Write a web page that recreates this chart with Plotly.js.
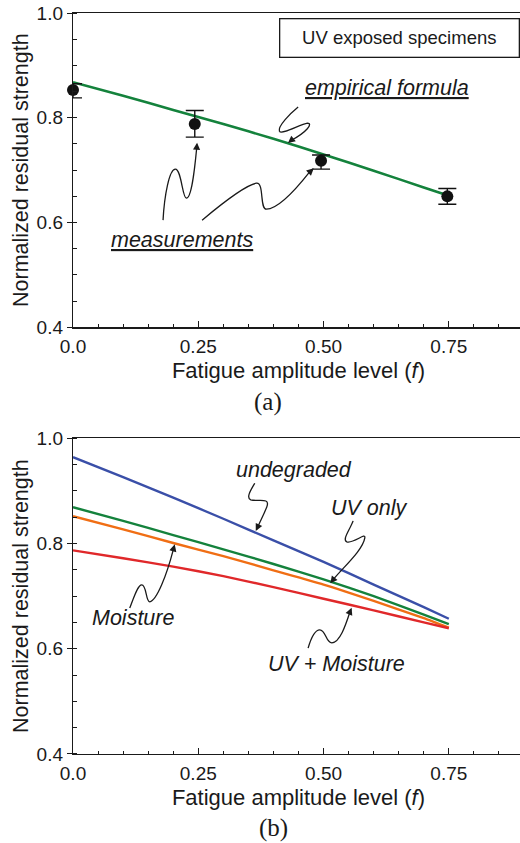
<!DOCTYPE html>
<html>
<head>
<meta charset="utf-8">
<script src="https://cdn.plot.ly/plotly-3.0.1.min.js"></script>
<style>
  html, body { margin: 0; padding: 0; background: #fff; overflow: hidden; }
  #chart { width: 524px; height: 843px; }
</style>
</head>
<body>
<div id="chart"></div>
<script>
// ---------------- data ----------------
// (a) UV exposed specimens
const FIT_F = [0, 0.1, 0.2, 0.3, 0.4, 0.5, 0.6, 0.7, 0.747];
const FIT_UV = [0.868, 0.842, 0.815, 0.788, 0.760, 0.730, 0.699, 0.667, 0.652];
const MEAS_F = [0, 0.243, 0.495, 0.747];
const MEAS_MEAN = [0.853, 0.788, 0.718, 0.650];
const MEAS_ERR_UP = [0.012, 0.026, 0.011, 0.015];
const MEAS_ERR_DOWN = [0.015, 0.025, 0.016, 0.015];

// (b) model curves
const CURVE_F = [0, 0.1, 0.2, 0.3, 0.4, 0.5, 0.6, 0.7, 0.75];
const UNDEGRADED = [0.964, 0.926, 0.887, 0.847, 0.806, 0.765, 0.722, 0.679, 0.657];
const UV_ONLY = [0.869, 0.843, 0.816, 0.789, 0.761, 0.732, 0.700, 0.665, 0.647];
const MOISTURE = [0.852, 0.827, 0.801, 0.776, 0.749, 0.722, 0.691, 0.658, 0.640];
const UV_MOISTURE = [0.787, 0.772, 0.756, 0.738, 0.717, 0.695, 0.673, 0.650, 0.639];

// tick labels
const X_TICKS = [0, 0.25, 0.5, 0.75];
const X_TICKTEXT = ['0.0', '0.25', '0.50', '0.75'];
const Y_TICKS = [0.4, 0.6, 0.8, 1.0];
const Y_TICKTEXT = ['0.4', '0.6', '0.8', '1.0'];

// ---------------- styling ----------------
const FONT = 'Liberation Sans, Arial, Helvetica, sans-serif';
const SERIF = 'Liberation Serif, Times New Roman, serif';
const INK = '#1a1a1a';
const C_GREEN = '#14823c';
const C_BLUE = '#3a4fa8';
const C_ORANGE = '#f06e14';
const C_RED = '#e0282a';

const H = 843, T = 12.7, B = 88.7, L = 73, W = 524;
const plotH = H - T - B;

// pixel -> data helpers for decorations (annotations / squiggle arrows)
const REF = {
  a: {x0: 72.7, xs: 500.8, y1: 12.7, ys: 524.3},
  b: {x0: 73.3, xs: 500.9, y1: 438.3, ys: 526.7}
};
function toData(p, px, py) {
  const r = REF[p];
  return [(px - r.x0) / r.xs, 1 - (py - r.y1) / r.ys];
}
function toPaper(px, py) {
  return [(px - L) / (W - L), 1 - (py - T) / plotH];
}
function pathData(p, s) {
  return s.replace(/(-?[\d.]+),(-?[\d.]+)/g, (m, a, b) => {
    const d = toData(p, +a, +b);
    return d[0].toFixed(5) + ',' + d[1].toFixed(5);
  });
}

const ARROWS = [
  {p: 'a', path: 'M297.7,106.7 C290,113 277,126 279,131 C281,135 300,124 307,123 C313,123 306,132 291,140', tail: [291, 140], tip: [287.5, 142.8]},
  {p: 'a', path: 'M162.7,220 C164,195 169,169 175,169 C181,169 182,198 186,198 C191,198 194,172 196.3,148', tail: [196.3, 148], tip: [196.7, 142.5]},
  {p: 'a', path: 'M201.7,220 C222,203 245,185 256,183 C264,182 259,209 266,209 C279,209 298,186 309,172', tail: [309, 172], tip: [313.3, 168]},
  {p: 'b', path: 'M255,483.3 C251,490 246,498 251,500 C258,502 271,497 267,507 C264,515 260,522 258.5,526', tail: [258.5, 526], tip: [256, 531]},
  {p: 'b', path: 'M353.3,521 C350,530 342,540 347,542 C354,544 366,532 365,538 C363,550 345,566 334,579', tail: [334, 579], tip: [330.5, 583.5]},
  {p: 'b', path: 'M130,608.3 C134,598 138,585 142,585 C147,585 146,602 150,602 C157,601 167,575 173.5,550', tail: [173.5, 550], tip: [175, 544.5]},
  {p: 'b', path: 'M308.3,648.3 C311,639 315,630 320,630 C326,630 326,643 332,643 C340,643 346,625 350,612.5', tail: [350, 612.5], tip: [351.8, 608]}
];

const LABELS = [
  {p: 'a', text: '<i><u>empirical formula</u></i>', at: [386.5, 88]},
  {p: 'a', text: '<i><u>measurements</u></i>', at: [181.5, 240]},
  {p: 'b', text: '<i>undegraded</i>', at: [294.5, 470]},
  {p: 'b', text: '<i>UV only</i>', at: [369.5, 508.5]},
  {p: 'b', text: '<i>Moisture</i>', at: [133, 618.5]},
  {p: 'b', text: '<i>UV + Moisture</i>', at: [336.5, 664]}
];

// ---------------- traces ----------------
const traces = [
  {x: FIT_F, y: FIT_UV, xaxis: 'x', yaxis: 'y', type: 'scatter', mode: 'lines',
   line: {color: C_GREEN, width: 2.6, shape: 'spline', smoothing: 0.6}, name: 'empirical formula'},
  {x: MEAS_F, y: MEAS_MEAN, xaxis: 'x', yaxis: 'y', type: 'scatter', mode: 'markers',
   cliponaxis: false,
   marker: {color: '#111', size: 12}, name: 'measurements',
   error_y: {type: 'data', symmetric: false, array: MEAS_ERR_UP, arrayminus: MEAS_ERR_DOWN,
             color: '#111', thickness: 1.4, width: 9}},
  {x: CURVE_F, y: UNDEGRADED, xaxis: 'x2', yaxis: 'y2', type: 'scatter', mode: 'lines',
   line: {color: C_BLUE, width: 2.4, shape: 'spline', smoothing: 0.6}, name: 'undegraded'},
  {x: CURVE_F, y: UV_ONLY, xaxis: 'x2', yaxis: 'y2', type: 'scatter', mode: 'lines',
   line: {color: C_GREEN, width: 2.4, shape: 'spline', smoothing: 0.6}, name: 'UV only'},
  {x: CURVE_F, y: MOISTURE, xaxis: 'x2', yaxis: 'y2', type: 'scatter', mode: 'lines',
   line: {color: C_ORANGE, width: 2.4, shape: 'spline', smoothing: 0.6}, name: 'Moisture'},
  {x: CURVE_F, y: UV_MOISTURE, xaxis: 'x2', yaxis: 'y2', type: 'scatter', mode: 'lines',
   line: {color: C_RED, width: 2.4, shape: 'spline', smoothing: 0.6}, name: 'UV + Moisture'}
];

// ---------------- axes ----------------
function xAxis(anchor) {
  return {
    anchor: anchor, domain: [0, 1], range: [0, 0.9], fixedrange: true,
    tickmode: 'array', tickvals: X_TICKS, ticktext: X_TICKTEXT,
    ticks: 'inside', ticklen: 6, tickwidth: 1, tickcolor: INK,
    minor: {tickmode: 'linear', tick0: 0, dtick: 0.05, ticks: 'inside', ticklen: 3, tickwidth: 1, tickcolor: INK},
    showline: true, linecolor: INK, linewidth: 1.2, mirror: true,
    showgrid: false, zeroline: false,
    tickfont: {family: FONT, size: 19, color: INK},
    ticklabelstandoff: 2,
    title: {text: 'Fatigue amplitude level (<i>f</i>)', font: {family: FONT, size: 22, color: INK}, standoff: 6}
  };
}
function yAxis(anchor, domain) {
  return {
    anchor: anchor, domain: domain, range: [0.4, 1.0], fixedrange: true,
    tickmode: 'array', tickvals: Y_TICKS, ticktext: Y_TICKTEXT,
    ticks: 'outside', ticklen: 5, tickwidth: 1, tickcolor: INK,
    minor: {tickmode: 'linear', tick0: 0.4, dtick: 0.05, ticks: 'inside', ticklen: 4, tickwidth: 1, tickcolor: INK},
    showline: true, linecolor: INK, linewidth: 1.2, mirror: true,
    showgrid: false, zeroline: false,
    tickfont: {family: FONT, size: 19, color: INK},
    title: {text: 'Normalized residual strength', font: {family: FONT, size: 21.5, color: INK}, standoff: 2}
  };
}

const annotations = [];
LABELS.forEach(l => {
  const d = toData(l.p, l.at[0], l.at[1]);
  annotations.push({
    xref: l.p === 'a' ? 'x' : 'x2', yref: l.p === 'a' ? 'y' : 'y2',
    x: d[0], y: d[1], text: l.text, showarrow: false,
    xanchor: 'center', yanchor: 'middle',
    font: {family: FONT, size: 21.5, color: INK}
  });
});
ARROWS.forEach(a => {
  const d = toData(a.p, a.tip[0], a.tip[1]);
  annotations.push({
    xref: a.p === 'a' ? 'x' : 'x2', yref: a.p === 'a' ? 'y' : 'y2',
    x: d[0], y: d[1], text: '', showarrow: true,
    ax: a.tail[0] - a.tip[0], ay: a.tail[1] - a.tip[1],
    arrowhead: 2, arrowsize: 1.1, arrowwidth: 1.3, arrowcolor: INK, standoff: 0
  });
});
// legend-like box
(function () {
  const d = toData('a', 398.7, 38);
  annotations.push({
    xref: 'x', yref: 'y', x: d[0], y: d[1], text: 'UV exposed specimens', showarrow: false,
    xanchor: 'center', yanchor: 'middle', width: 236, height: 35, borderpad: 1,
    bordercolor: INK, borderwidth: 1.3, bgcolor: '#fff',
    font: {family: FONT, size: 18.5, color: INK}
  });
})();
// panel labels
(function () {
  const pa = toPaper(268, 402);
  const pb = toPaper(273, 828);
  annotations.push({xref: 'paper', yref: 'paper', x: pa[0], y: pa[1], text: '(a)', showarrow: false,
    xanchor: 'center', yanchor: 'middle', font: {family: SERIF, size: 25, color: INK}});
  annotations.push({xref: 'paper', yref: 'paper', x: pb[0], y: pb[1], text: '(b)', showarrow: false,
    xanchor: 'center', yanchor: 'middle', font: {family: SERIF, size: 25, color: INK}});
})();

const shapes = ARROWS.map(a => ({
  type: 'path', xref: a.p === 'a' ? 'x' : 'x2', yref: a.p === 'a' ? 'y' : 'y2',
  path: pathData(a.p, a.path), line: {color: INK, width: 1.3}
}));

const layout = {
  width: W, height: H,
  margin: {l: L, r: 0, t: T, b: B, pad: 0},
  paper_bgcolor: '#fff', plot_bgcolor: '#fff',
  showlegend: false,
  font: {family: FONT, color: INK},
  xaxis: xAxis('y'),
  yaxis: yAxis('x', [1 - (327.3 - T) / plotH, 1]),
  xaxis2: xAxis('y2'),
  yaxis2: yAxis('x2', [0, 1 - (438.3 - T) / plotH]),
  annotations: annotations,
  shapes: shapes
};

Plotly.newPlot('chart', traces, layout, {displayModeBar: false, staticPlot: true});
</script>
</body>
</html>
